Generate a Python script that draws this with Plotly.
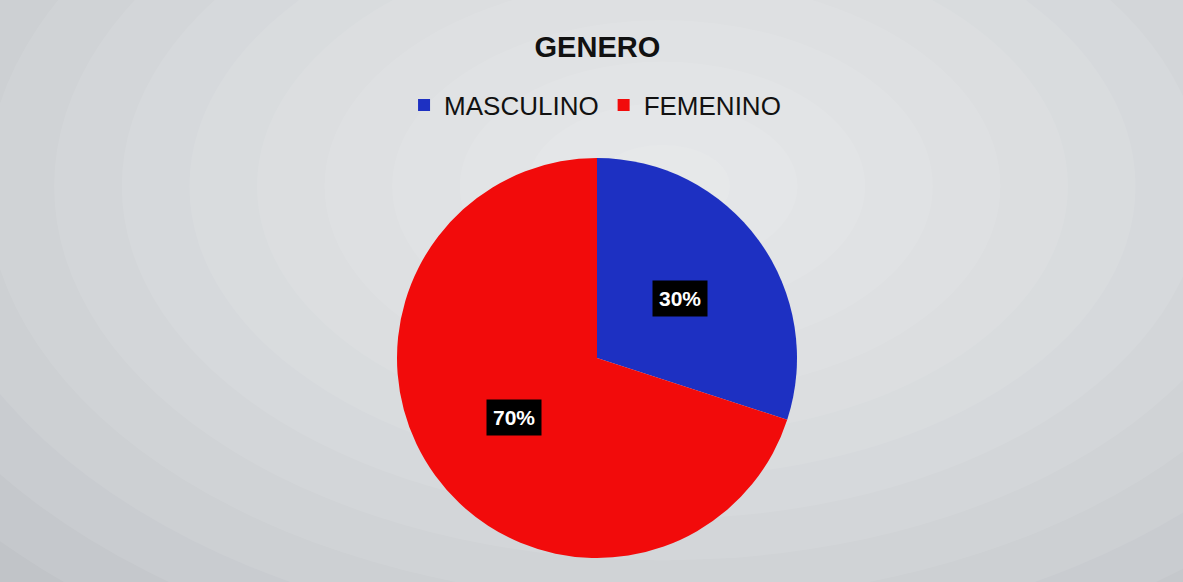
import math
import plotly.graph_objects as go

title_text = "GENERO"
labels = ["MASCULINO", "FEMENINO"]
values = [30, 70]
colors = ["#1d30c2", "#f20b0b"]

W, H = 1183, 582
cx, cy, R = 597, 358, 200  # pie centre / radius in pixels (layout)

fig = go.Figure()
fig.add_trace(go.Pie(
    labels=labels, values=values, sort=False, direction="clockwise", rotation=0,
    marker=dict(colors=colors, line=dict(width=0)),
    textinfo="none", hoverinfo="label+percent",
    domain=dict(x=[(cx - R) / W, (cx + R) / W], y=[1 - (cy + R) / H, 1 - (cy - R) / H]),
))

# radial-ish background gradient
shapes = []
n = 14
for i in range(n):
    f = 1 - i / n
    rx, ry = 0.8 * f, 1.0 * f
    shapes.append(dict(type="circle", xref="paper", yref="paper",
                       x0=0.56 - rx, x1=0.56 + rx, y0=0.68 - ry, y1=0.68 + ry,
                       fillcolor="white", opacity=0.08, line=dict(width=0), layer="below"))

# percent labels at slice mid-angles
annotations = []
total = sum(values)
start = 0.0
for v in values:
    frac = v / total
    mid = (start + frac / 2) * 2 * math.pi
    start += frac
    px = cx + 0.51 * R * math.sin(mid)
    py = cy - 0.51 * R * math.cos(mid)
    annotations.append(dict(x=px / W, y=1 - py / H, xref="paper", yref="paper",
                            xanchor="center", yanchor="middle",
                            text=f"<b>{round(frac * 100)}%</b>", showarrow=False,
                            font=dict(family="Arial, Liberation Sans", size=21, color="white"),
                            bgcolor="black", borderpad=6))

fig.update_layout(
    width=W, height=H,
    margin=dict(l=0, r=0, t=0, b=0),
    paper_bgcolor="#bcbfc4",
    shapes=shapes,
    annotations=annotations,
    title=dict(text=f"<b>{title_text}</b>", x=0.505, xanchor="center", y=1 - 47 / H, yanchor="middle",
               font=dict(family="Arial, Liberation Sans", size=29, color="#111111")),
    legend=dict(orientation="h", x=0.503, xanchor="center", y=1 - 105 / H, yanchor="middle",
                font=dict(family="Arial, Liberation Sans", size=26, color="#111111"),
                itemwidth=30, bgcolor="rgba(0,0,0,0)"),
    showlegend=True,
)

fig.write_html("out.html", config={"displayModeBar": False},
               post_script="document.body.style.margin='0';")
